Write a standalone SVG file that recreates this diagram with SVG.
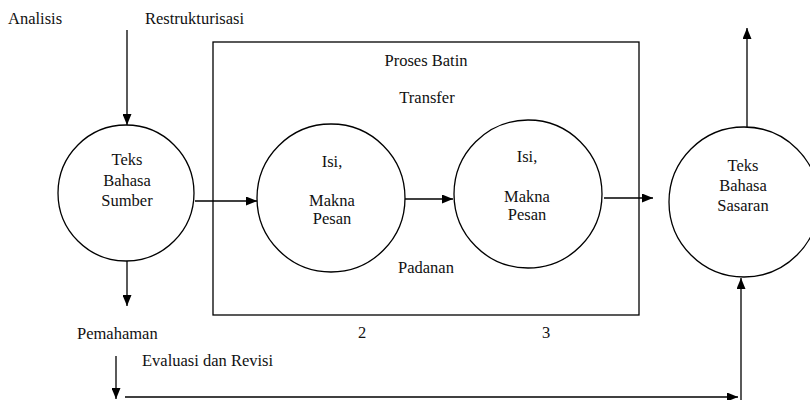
<svg xmlns="http://www.w3.org/2000/svg" width="810" height="400" viewBox="0 0 810 400">
<defs>
<marker id="ah" markerWidth="11" markerHeight="9" refX="11" refY="4.5" orient="auto" markerUnits="userSpaceOnUse">
<path d="M0,0 L11,4.5 L0,9 Z" fill="#000"/>
</marker>
<style>
.m{text-anchor:middle}
.n{fill:#fff;stroke:#000;stroke-width:1.3}
.c{fill:none;stroke:#000;stroke-width:1.3;marker-end:url(#ah)}
</style>
</defs>
<rect width="810" height="400" fill="#fff"/>
<g font-family="Liberation Serif, Times New Roman, Times, serif" font-size="16.5" fill="#111">
<g id="labels">
<text x="8" y="24">Analisis</text>
<text x="145" y="24">Restrukturisasi</text>
<text x="77" y="339">Pemahaman</text>
<text x="142" y="366">Evaluasi dan Revisi</text>
<text class="m" x="362" y="338">2</text>
<text class="m" x="546" y="338">3</text>
</g>
<g id="proses-batin">
<rect x="213" y="42" width="426" height="273" fill="none" stroke="#000" stroke-width="1.3"/>
<text class="m" x="426" y="66">Proses Batin</text>
<text class="m" x="427" y="103">Transfer</text>
<text class="m" x="426" y="273">Padanan</text>
</g>
<g id="sumber">
<circle class="n" cx="126" cy="193" r="68"/>
<text class="m" x="127" y="165">Teks</text>
<text class="m" x="127" y="186">Bahasa</text>
<text class="m" x="127" y="206">Sumber</text>
</g>
<g id="pesan1">
<circle class="n" cx="331" cy="198" r="74"/>
<text class="m" x="332" y="167">Isi,</text>
<text class="m" x="332" y="206">Makna</text>
<text class="m" x="332" y="224">Pesan</text>
</g>
<g id="pesan2">
<circle class="n" cx="528" cy="194" r="74"/>
<text class="m" x="527" y="162">Isi,</text>
<text class="m" x="527" y="202">Makna</text>
<text class="m" x="527" y="220">Pesan</text>
</g>
<g id="sasaran">
<circle class="n" cx="744" cy="202" r="75"/>
<text class="m" x="743" y="171">Teks</text>
<text class="m" x="743" y="191">Bahasa</text>
<text class="m" x="743" y="211">Sasaran</text>
</g>
</g>
<g id="connectors">
<line class="c" x1="127" y1="30" x2="127" y2="125"/>
<line class="c" x1="127" y1="261" x2="127" y2="306"/>
<line class="c" x1="195" y1="201" x2="257" y2="201"/>
<line class="c" x1="405" y1="199" x2="453" y2="199"/>
<line class="c" x1="604" y1="198" x2="653" y2="198"/>
<line class="c" x1="747" y1="127" x2="747" y2="28"/>
<line class="c" x1="741" y1="400" x2="741" y2="278"/>
<line class="c" x1="116" y1="356" x2="116" y2="399"/>
<line class="c" x1="125" y1="397" x2="738" y2="397"/>
</g>
</svg>
